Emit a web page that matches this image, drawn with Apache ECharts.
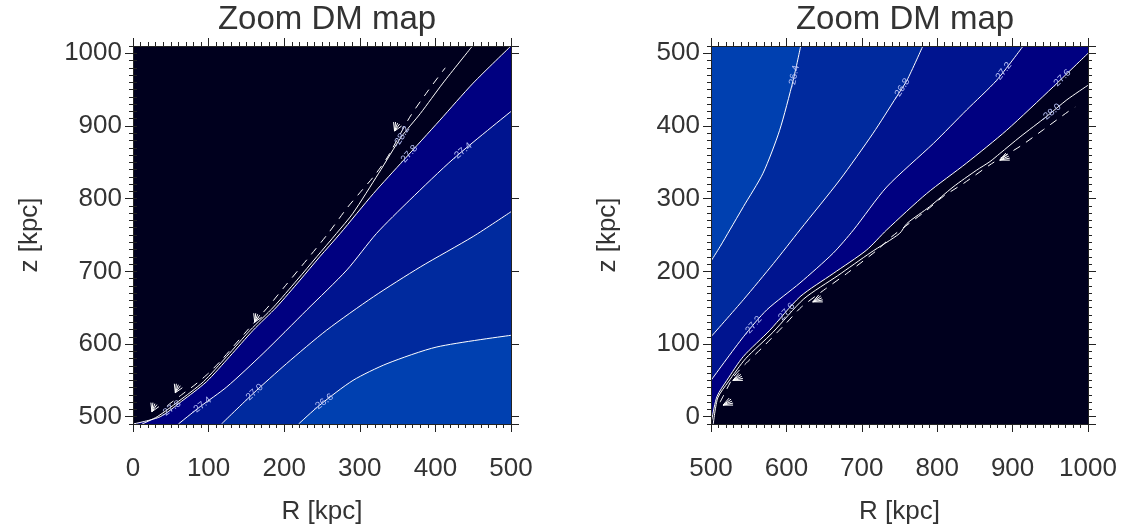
<!DOCTYPE html>
<html>
<head>
<meta charset="utf-8">
<script src="https://cdn.jsdelivr.net/npm/echarts@6/dist/echarts.min.js"></script>
<style>
  html, body { margin: 0; padding: 0; background: #ffffff; }
  #chart { width: 1122px; height: 532px; }
</style>
</head>
<body>
<div id="chart"></div>
<script>
// Axis ranges (kpc)
const leftRange  = { r: [0, 500],   z: [490, 1010] };
const rightRange = { r: [500, 1000], z: [-10, 510] };

// ---- Left panel contours: [R, z] in kpc, ordered by R ----
const L_m278 = [[0,490],[36,500],[64,521],[97,548],[128,583],[159,619],[190,651],[221,688],[247,720],[274,752],[318,807],[358,853],[406,908],[450,959],[500,1010]];
const L_m274 = [[60,490],[89,514],[124,541],[172,587],[230,647],[283,702],[322,752],[366,798],[424,855],[500,920]];
const L_m270 = [[117,490],[159,532],[203,573],[256,619],[318,665],[380,706],[450,748],[500,782]];
const L_m266 = [[219,490],[247,516],[291,550],[336,573],[402,596],[500,612]];
const L_m282 = [[12,490],[32,500],[60,521],[93,548],[124,583],[155,619],[186,651],[217,688],[243,720],[269,752],[291,780],[325,835],[355,885],[380,917],[410,959],[449,1010]];
const L_dash = [[45,515],[64,530],[82,544],[100,560],[117,578],[148,615],[181,654],[199,677],[230,716],[258,752],[283,787],[300,808],[318,830],[336,856],[366,912],[390,948],[413,980]];
const L_labels = [['-27.8',51,509],['-27.8',364,860],['-27.4',91,514],['-27.4',437,862],['-27.0',161,530],['-26.6',254,516],['-28.2',355,885]];
const L_hatch = [[25,507],[56,533],[161,630],[346,893]];

// ---- Right panel contours ----
const R_m264 = [[500,214],[512,234],[525,257],[543,289],[569,335],[591,394],[609,463],[619,510]];
const R_m268 = [[500,110],[543,161],[583,211],[618,257],[671,326],[715,390],[746,440],[760,463],[781,510]];
const R_m272 = [[500,50],[543,110],[574,147],[618,184],[662,225],[689,257],[733,316],[795,376],[839,422],[879,463],[914,510]];
const R_m276 = [[500,-10],[501,-4],[508,28],[521,50],[543,83],[578,119],[618,165],[662,197],[706,229],[733,257],[786,307],[839,349],[892,394],[954,454],[1000,500]];
const R_m280 = [[503,-10],[509,26],[523,48],[546,80],[582,116],[623,162],[668,194],[712,226],[750,252],[760,266],[790,289],[821,316],[852,339],[870,351],[883,362],[910,385],[945,413],[972,436],[1000,456]];
const R_dash = [[512,20],[516,28],[530,55],[547,74],[567,94],[600,129],[620,151],[652,176],[680,197],[720,229],[740,248],[786,284],[808,303],[835,321],[872,348],[910,372],[941,395],[974,420],[983,426]];
const R_labels = [['-26.4',609,468],['-26.8',751,452],['-27.2',885,475],['-27.6',963,466],['-28.0',952,417],['-27.2',556,124],['-27.6',602,140]];
const R_hatch = [[883,353],[635,158],[529,50],[516,16]];

const leftContours  = { '-28.2': L_m282, '-27.8': L_m278, '-27.4': L_m274, '-27.0': L_m270, '-26.6': L_m266 };
const rightContours = { '-28.0': R_m280, '-27.6': R_m276, '-27.2': R_m272, '-26.8': R_m268, '-26.4': R_m264 };

// ---- styling ----
const FONT = '"Liberation Sans", Arial, Helvetica, sans-serif';
const TEXT = '#333333';
const AXIS = '#222222';
const BAND = ['#00001e', '#000080', '#00148f', '#002a9e', '#0040b0'];
const LABEL_COLOR = '#b4bef5';

function plainNumber(v) { return String(v); }

function xAxes(grid, range) {
  const base = {
    gridIndex: grid, type: 'value', min: range[0], max: range[1], interval: 100,
    splitLine: { show: false }, z: 10,
    axisLine: { show: true, onZero: false, lineStyle: { color: AXIS, width: 1 } },
    axisTick: { show: true, inside: false, length: 8, lineStyle: { color: AXIS } },
    minorTick: { show: true, splitNumber: 10, length: 4, lineStyle: { color: AXIS } }
  };
  return [
    Object.assign({}, base, {
      position: 'bottom', name: 'R [kpc]', nameLocation: 'middle', nameGap: 75,
      nameTextStyle: { fontSize: 26, color: TEXT, fontFamily: FONT },
      axisLabel: { show: true, fontSize: 26, color: TEXT, fontFamily: FONT, margin: 32,
                   showMinLabel: true, showMaxLabel: true, formatter: plainNumber }
    }),
    Object.assign({}, base, { position: 'top', axisLabel: { show: false } })
  ];
}

function yAxes(grid, range) {
  const line = { show: true, onZero: false, lineStyle: { color: AXIS, width: 1 } };
  const major = {
    gridIndex: grid, type: 'value', min: range[0], max: range[1], splitNumber: 5,
    splitLine: { show: false }, z: 10,
    axisTick: { show: true, inside: false, length: 8, lineStyle: { color: AXIS } }
  };
  const minor = {
    gridIndex: grid, type: 'value', min: range[0], max: range[1], interval: 10,
    splitLine: { show: false }, z: 10, axisLine: { show: false }, axisLabel: { show: false },
    axisTick: { show: true, inside: false, length: 4, lineStyle: { color: AXIS } }
  };
  return [
    Object.assign({}, major, {
      position: 'left', axisLine: line,
      name: 'z [kpc]', nameLocation: 'middle', nameGap: 90, nameRotate: 90,
      nameTextStyle: { fontSize: 26, color: TEXT, fontFamily: FONT },
      axisLabel: {
        fontSize: 26, color: TEXT, fontFamily: FONT, margin: 11,
        showMinLabel: false, showMaxLabel: false,
        formatter: v => (v % 100 === 0 ? String(v) : '')
      }
    }),
    Object.assign({}, minor, { position: 'left' }),
    Object.assign({}, major, { position: 'right', axisLine: line, axisLabel: { show: false } }),
    Object.assign({}, minor, { position: 'right' })
  ];
}

// filled contour band: white contour line, area to the lower (start) or upper (end) edge
function bandLine(data, xi, yi, color, origin) {
  return {
    type: 'line', xAxisIndex: xi, yAxisIndex: yi, data: data,
    smooth: 0.25, symbol: 'none', silent: true, clip: true, z: 2,
    lineStyle: { color: '#ffffff', width: 1 },
    areaStyle: { color: color, opacity: 1, origin: origin }
  };
}

function plainLine(data, xi, yi, dashed) {
  return {
    type: 'line', xAxisIndex: xi, yAxisIndex: yi, data: data,
    smooth: 0.25, symbol: 'none', silent: true, clip: true, z: 3,
    lineStyle: { color: '#ffffff', width: 1, type: dashed ? [8, 7] : 'solid' }
  };
}

// contour value labels, rotated along the local direction of their contour
function labelSeries(labels, contours, xi, yi) {
  return {
    type: 'custom', xAxisIndex: xi, yAxisIndex: yi, silent: true, clip: true, z: 5,
    data: labels.map(l => [l[1], l[2]]),
    renderItem: function (params, api) {
      const lab = labels[params.dataIndex];
      const p = api.coord([api.value(0), api.value(1)]);
      const pts = contours[lab[0]].map(q => api.coord(q));
      let best = Infinity, ang = 0, proj = p;
      for (let i = 0; i < pts.length - 1; i++) {
        const a = pts[i], b = pts[i + 1];
        const dx = b[0] - a[0], dy = b[1] - a[1];
        const l2 = dx * dx + dy * dy || 1;
        let t = ((p[0] - a[0]) * dx + (p[1] - a[1]) * dy) / l2;
        t = Math.max(0, Math.min(1, t));
        const qx = a[0] + t * dx, qy = a[1] + t * dy;
        const d = (qx - p[0]) ** 2 + (qy - p[1]) ** 2;
        if (d < best) {
          best = d; proj = [qx, qy];
          let ddx = dx, ddy = dy;
          if (ddx < 0) { ddx = -ddx; ddy = -ddy; }
          ang = -Math.atan2(ddy, ddx);
        }
      }
      return {
        type: 'text', x: proj[0], y: proj[1], rotation: ang,
        style: { text: lab[0], fill: LABEL_COLOR, font: '10px ' + FONT, align: 'center', verticalAlign: 'middle' }
      };
    }
  };
}

// small hatched wedges along the steep contour edge
function hatchSeries(points, xi, yi, up) {
  const fan = up ? [[-1, -9], [1, -9], [3, -8], [5, -7], [7, -5]] : [[10, 0], [10, -2], [9, -4], [8, -6], [6, -7]];
  return {
    type: 'custom', xAxisIndex: xi, yAxisIndex: yi, silent: true, clip: true, z: 4,
    data: points,
    renderItem: function (params, api) {
      const p = api.coord([api.value(0), api.value(1)]);
      return {
        type: 'group',
        children: fan.map(f => ({
          type: 'line',
          shape: { x1: p[0], y1: p[1], x2: p[0] + f[0], y2: p[1] + f[1] },
          style: { stroke: '#ffffff', lineWidth: 1 }
        }))
      };
    }
  };
}

const chart = echarts.init(document.getElementById('chart'), null, { renderer: 'canvas' });

const option = {
  animation: false,
  backgroundColor: '#ffffff',
  title: [
    { text: 'Zoom DM map', left: 322, top: -2, textAlign: 'center',
      textStyle: { fontSize: 33, fontWeight: 'normal', color: TEXT, fontFamily: FONT } },
    { text: 'Zoom DM map', left: 900, top: -2, textAlign: 'center',
      textStyle: { fontSize: 33, fontWeight: 'normal', color: TEXT, fontFamily: FONT } }
  ],
  grid: [
    { left: 133, top: 46, width: 378, height: 378, show: true, backgroundColor: BAND[0], borderWidth: 0 },
    { left: 711, top: 46, width: 377, height: 378, show: true, backgroundColor: BAND[0], borderWidth: 0 }
  ],
  xAxis: [].concat(xAxes(0, leftRange.r), xAxes(1, rightRange.r)),
  yAxis: [].concat(yAxes(0, leftRange.z), yAxes(1, rightRange.z)),
  series: [
    // left panel: darker towards the upper left
    bandLine(L_m278, 0, 0, BAND[1], 'start'),
    bandLine(L_m274, 0, 0, BAND[2], 'start'),
    bandLine(L_m270, 0, 0, BAND[3], 'start'),
    bandLine(L_m266, 0, 0, BAND[4], 'start'),
    plainLine(L_m282, 0, 0, false),
    plainLine(L_dash, 0, 0, true),
    hatchSeries(L_hatch, 0, 0, true),
    labelSeries(L_labels, leftContours, 0, 0),
    // right panel: darker towards the lower right
    bandLine(R_m276, 2, 4, BAND[1], 'end'),
    bandLine(R_m272, 2, 4, BAND[2], 'end'),
    bandLine(R_m268, 2, 4, BAND[3], 'end'),
    bandLine(R_m264, 2, 4, BAND[4], 'end'),
    plainLine(R_m280, 2, 4, false),
    plainLine(R_dash, 2, 4, true),
    hatchSeries(R_hatch, 2, 4, false),
    labelSeries(R_labels, rightContours, 2, 4)
  ]
};

chart.setOption(option);
</script>
</body>
</html>
